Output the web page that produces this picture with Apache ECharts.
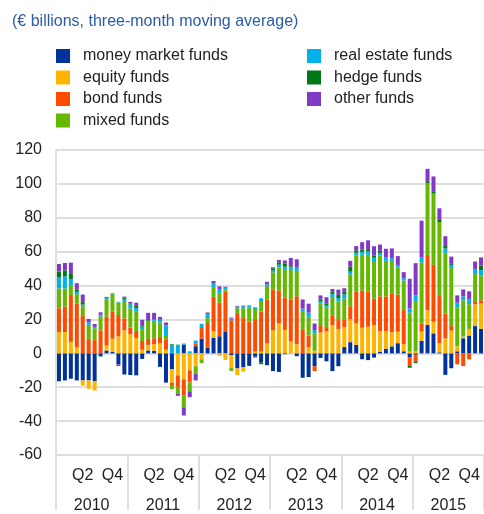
<!DOCTYPE html>
<html>
<head>
<meta charset="utf-8">
<script src="https://cdn.jsdelivr.net/npm/echarts@6/dist/echarts.min.js"></script>
<style>
html, body { margin: 0; padding: 0; background: #fff; }
#main { width: 484px; height: 514px; }
</style>
</head>
<body>
<div id="main"></div>
<script>
// years on the second axis row, quarter labels on the first
var years = ['2010', '2011', '2012', '2013', '2014', '2015'];
var quarterLabels = { 4: 'Q2', 9: 'Q4' };

// monthly flows, Jan 2010 - Dec 2015
var moneyMarket = [
	-16.5, -16, -15, -16, -16, -16, -16.5, -1.5, 1.7, 1, -6.5, -12.5,
	-12.8, -13, -3.3, 1.7, 1.5, -8, -17.3, -9.3, 0, 5, 0, 4.2,
	8.7, 3.3, 9.1, 10.1, 12.6, -1, -8.9, -8.3, -7.4, -2, -5.4, -7,
	-10.5, -11, -0.5, 0, -1.7, -14.4, -14, -7.6, -2.7, -4.7, -10.5, -7.6,
	3.7, 6.6, 5, -3.5, -4, -2.5, 1, 2.7, 4.1, 6, 1.2, -2.5,
	-0.8, 7.4, 16.7, 11.8, 0.6, -12.7, -8.8, 1.2, 8.9, 10.5, 16.1, 14.4
];
var equity = [
	12.6, 12.6, 6.8, 3.7, -3, -5, -5.5, 0, 2.9, 7.6, 10, 13.6,
	11.3, 8.9, 2.1, 3.3, 3.9, 6, 2.1, -8, -13, -15.3, -10, -7.6,
	-3.5, 0, 3.9, -1.5, -3.9, -7.4, -3.9, -2.5, 0, 1, 1, 5.8,
	13.6, 17.7, 13.8, 7, 5.4, 0, 3.7, 1.5, 12.4, 13, 16.7, 14.4,
	11.7, 13.4, 12.6, 15.1, 15.7, 16.7, 12.2, 10.5, 8.3, 6.8, 4.3, 1,
	1.4, 5.4, 8.7, 6.8, 5.4, 8.9, 13.4, 2.9, 1, 3.9, 12.8, 15
];
var bond = [
	14, 15, 27.6, 25.8, 22, 8.5, 7.8, 13.6, 17, 16, 12.6, 7,
	3.9, 4.3, 5.2, 3.5, 3.5, 3.7, 6.2, -1.4, -6.8, -9.7, -7.2, 1.4,
	6.2, 14.6, 20.4, 19.8, 23.7, 19.5, 23.7, 20.8, 18.8, 19.2, 23.7, 26,
	23.9, 19.4, 19, 24.9, 28.3, 13.8, 6.8, -2.9, 3.7, 2.5, 5.8, 5.2,
	4.3, 7.8, 19, 21.9, 20.8, 15.5, 20.4, 20.4, 22.7, 21.9, 20, -5,
	-4, 4.9, 32.6, 33.6, 27.8, 14.6, 2.7, -6.5, -7.5, -3.6, 1.4, 1.9
];
var mixed = [
	11.7, 10.7, 5.4, 5.4, 5.8, 8.3, 7, 8.2, 10.3, 10.3, 7.4, 10.3,
	11.3, 11.3, 7, 10.7, 10.3, 8.5, 2.5, -2.5, -3.9, -6.8, -5.2, -4.5,
	-2.3, 2.9, 5.8, 5.8, 1.4, -2, 2.9, 5.8, 8.3, 5.4, 6.2, 7.8,
	10.3, 13.6, 16.5, 17.3, 15, 10.7, 11.1, 10.3, 13.2, 11.5, 10.7, 11.1,
	12.6, 18.8, 21.2, 21.2, 21.7, 22.3, 24.3, 21, 19.4, 15.9, 17.5, 23,
	29.5, 35.9, 42.5, 42.1, 43.7, 35.9, 34.2, 22.9, 21.4, 14.6, 16.5, 14.6
];
var realEstate = [
	6.4, 7.2, 4, 1.4, 1, 1.4, 0.8, 1, 0.8, 0.6, 0.4, 1,
	2.3, 2.3, 1.4, 0, 0.6, 1.6, 5.8, 5, 4.7, 0.8, 1.2, 1.9,
	2.5, 2.3, 1.9, 1.9, 1, 1, 1, 1.2, 1.2, 1.6, 1.6, 1.2,
	1.2, 1.6, 1.9, 1.6, 1.9, 1.9, 2.5, 1.9, 1.4, 1.2, 1.9, 1.9,
	2.5, 1.6, 1.6, 1.7, 1.9, 1.9, 1.4, 1.9, 1.6, 1.4, 1.4, 2.5,
	3.3, 3.3, 0, 0, 0, 2.5, 1.9, 2.9, 2.3, 2.7, 2.9, 3.3
];
var hedge = [
	3.5, 3.5, 3.5, 1.2, 1.4, 0, 0, -0.4, 0, 0, 0, 1,
	0.6, 1.2, 0.6, 0.4, 0, 0, 0, 0.4, 0.4, 0, 0, 0,
	0, 0, 0, 0, 0, 0, 0, 0, 0, 0, -1, 0,
	1.2, 1.4, 1.9, 0.6, 0.4, 0, 0, 0, 1, 1, 1.5, 1.9,
	1.5, 3.1, 1.4, 1.4, 1.4, 1.4, 1.2, 0, 0, 0, 0, -1,
	-1, 0, 0.6, 1.4, 1.7, 1.4, 1, 0, 0, 0, 0, 2.5
];
var other = [
	4.5, 4.3, 6.2, 3.9, 4.5, 2.1, 1.7, 1.4, 0.6, 0, -1, 0.6,
	1, 1.9, 3.5, 4.3, 4.1, 1.7, 1.6, 0, -1.4, -4.9, -3.5, -3.9,
	0, 1, 1.6, 1.9, 0.6, 0.6, 0.4, 0.4, 0, -0.5, 0, 1.4,
	0.6, 1.4, 1.7, 4.9, 4.5, 5.4, 5.2, 3.9, 2.5, 3.9, 1.4, 3.1,
	2.1, 3.3, 2.5, 4.3, 5.2, 5.4, 3.7, 5.2, 5.8, 5.4, 3.5, 17.5,
	19, 21.4, 7.8, 8.7, 6.4, 5.8, 3.9, 4.3, 4.1, 4.9, 4.5, 4.9
];

var seriesNames = ['money market funds', 'equity funds', 'bond funds', 'mixed funds',
	'real estate funds', 'hedge funds', 'other funds'];
var seriesData = [moneyMarket, equity, bond, mixed, realEstate, hedge, other];
var seriesColors = ['#003299', '#FFB400', '#FF4B00', '#65B800', '#00B1EA', '#007816', '#8139C6'];

// month categories
var months = [];
years.forEach(function(y) {
	for (var m = 1; m <= 12; m++) months.push(y + '-' + m);
});

var gridLine = '#dedede';
var legendText = { fontFamily: 'Liberation Sans', fontSize: 16, color: '#222', padding: [0, 0, 0, 8] };

var chart = echarts.init(document.getElementById('main'));
var option = {
	animation: false,
	backgroundColor: '#fff',
	title: {
		text: '(€ billions, three-month moving average)',
		left: 12,
		top: 14,
		padding: 0,
		textStyle: { fontFamily: 'Liberation Sans', fontSize: 16, fontWeight: 'normal', color: '#2b5ba8' }
	},
	legend: [{
		data: seriesNames.slice(0, 4),
		left: 56, top: 48, orient: 'vertical', padding: 0,
		icon: 'rect', itemWidth: 14, itemHeight: 14, itemGap: 5.5,
		textStyle: legendText
	}, {
		data: seriesNames.slice(4),
		left: 307, top: 48, orient: 'vertical', padding: 0,
		icon: 'rect', itemWidth: 14, itemHeight: 14, itemGap: 5.5,
		textStyle: legendText
	}],
	grid: { left: 56, top: 150, width: 430, height: 309 },
	xAxis: [{
		type: 'category',
		data: months,
		axisLine: { show: false },
		axisTick: { show: false },
		axisLabel: {
			interval: function(i) { return i % 12 === 4 || i % 12 === 9; },
			formatter: function(v, i) { return quarterLabels[i % 12]; },
			margin: 13,
			fontFamily: 'Liberation Sans', fontSize: 16, color: '#222'
		}
	}, {
		type: 'category',
		data: years,
		position: 'bottom',
		axisLine: { show: false },
		axisTick: { show: true, length: 55, lineStyle: { color: gridLine, width: 2 } },
		axisLabel: { margin: 43, fontFamily: 'Liberation Sans', fontSize: 16, color: '#222' }
	}],
	yAxis: {
		type: 'value',
		min: -60, max: 120, interval: 20,
		axisLine: { show: true, lineStyle: { color: gridLine, width: 2 } },
		axisTick: { show: false },
		axisLabel: { margin: 14, fontFamily: 'Liberation Sans', fontSize: 16, color: '#222' },
		splitLine: { lineStyle: { color: gridLine, width: 2 } }
	},
	series: seriesNames.map(function(name, k) {
		return {
			name: name,
			type: 'bar',
			stack: 'flows',
			barWidth: 4,
			itemStyle: { color: seriesColors[k] },
			data: seriesData[k]
		};
	})
};
chart.setOption(option);
window.onresize = chart.resize;
</script>
</body>
</html>
